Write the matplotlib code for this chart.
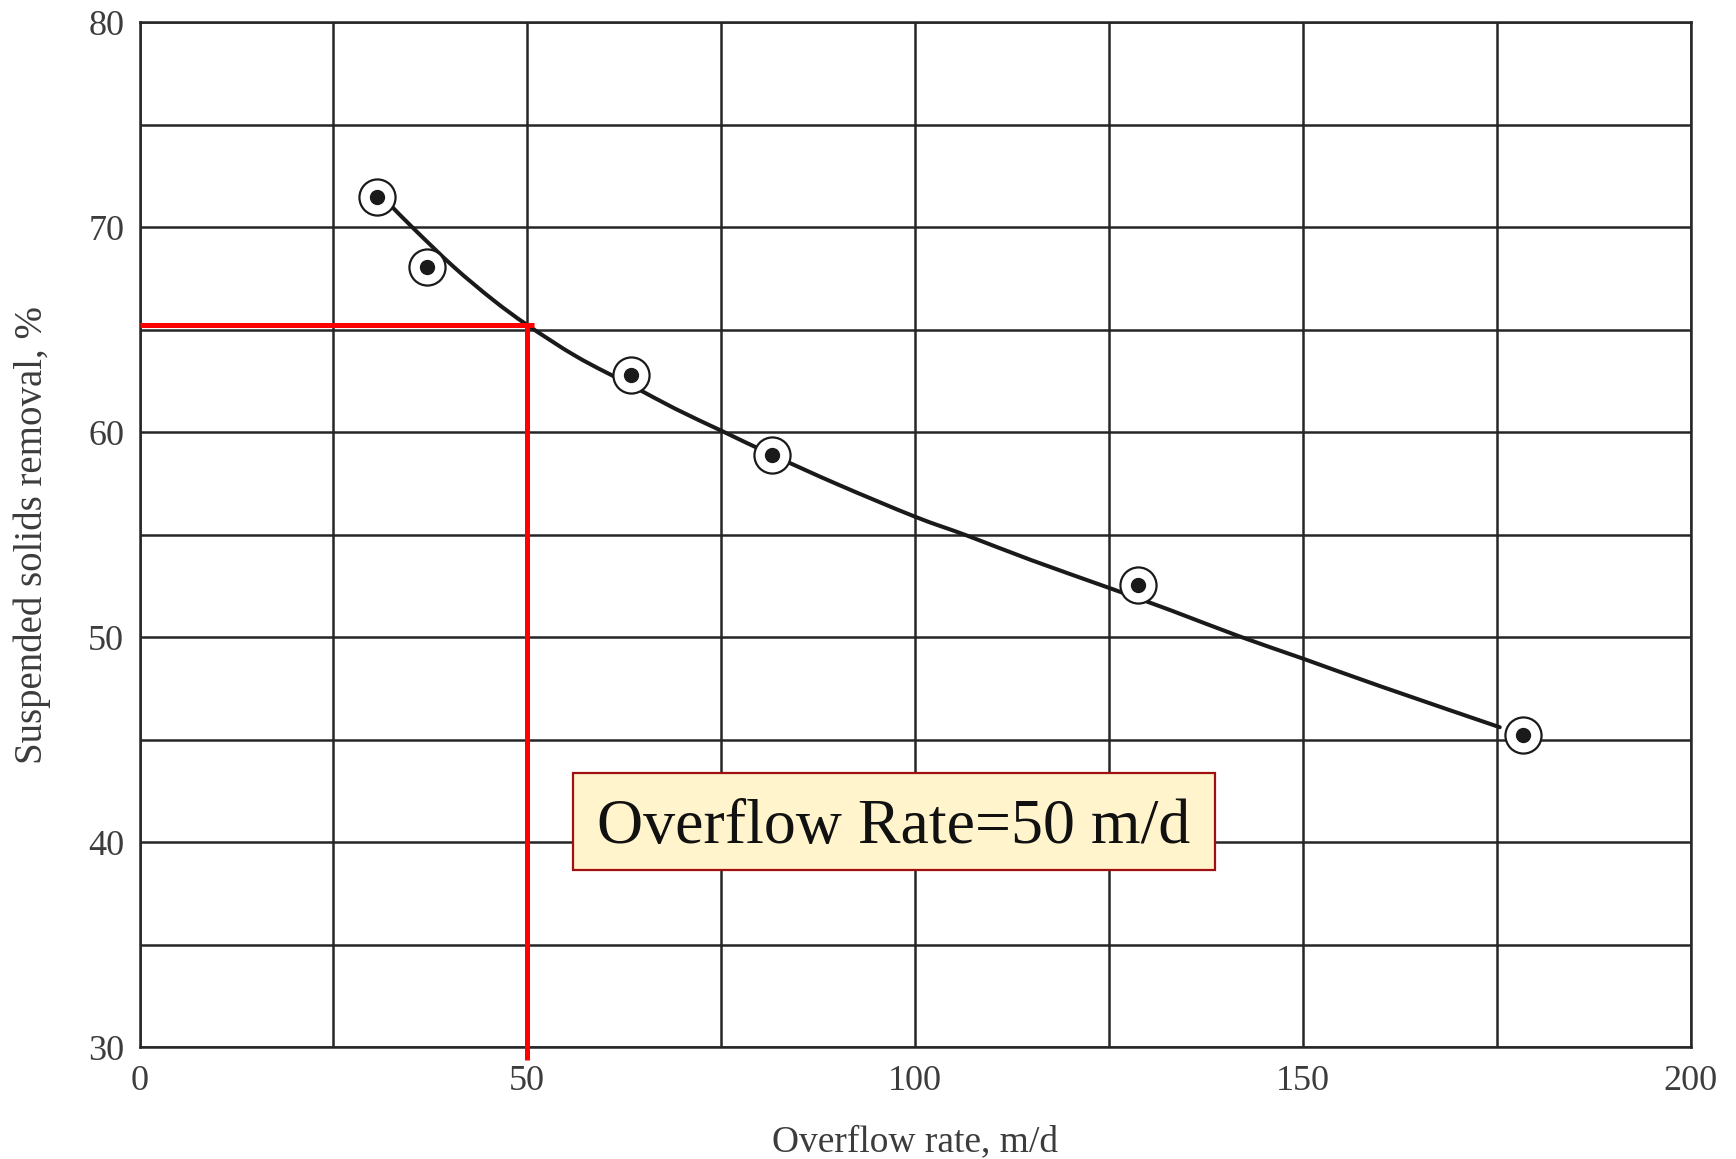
import matplotlib
matplotlib.use("Agg")
import matplotlib.pyplot as plt
from matplotlib.patches import Rectangle, PathPatch
from matplotlib.path import Path

# Settling column results: overflow rate (m/d) vs suspended solids removal (%)
overflow_rate = [30.6, 37.1, 63.4, 81.6, 128.8, 178.4]
ss_removal = [71.45, 68.06, 62.78, 58.88, 52.54, 45.2]

# Fitted removal curve, sampled along its length
curve_x = [32.7, 35.3, 40.5, 45.6, 50.0, 56.4, 63.3, 69.0, 75.1, 81.6, 90.0,
           100.0, 106.7, 115.0, 125.0, 133.0, 141.7, 150.0, 160.0, 175.4]
curve_y = [70.93, 69.94, 68.06, 66.44, 65.22, 63.67, 62.3, 61.15, 60.05, 58.88,
           57.45, 55.87, 54.95, 53.75, 52.4, 51.3, 50.05, 48.95, 47.6, 45.6]

# Design read-off
design_rate = 50
design_removal = 65.2

x_ticks = [0, 50, 100, 150, 200]
y_ticks = [30, 40, 50, 60, 70, 80]
x_grid = [0, 25, 50, 75, 100, 125, 150, 175, 200]
y_grid = [30, 35, 40, 45, 50, 55, 60, 65, 70, 75, 80]

serif = ["Liberation Serif", "DejaVu Serif"]
grid_color = "#262626"
label_color = "#3c3c3c"


def smooth_path(xs, ys):
    """Cubic Bezier path passing through every sample (Catmull-Rom tangents)."""
    pts = list(zip(xs, ys))
    verts = [pts[0]]
    codes = [Path.MOVETO]
    n = len(pts)
    for i in range(n - 1):
        p0 = pts[i - 1] if i > 0 else pts[i]
        p1 = pts[i]
        p2 = pts[i + 1]
        p3 = pts[i + 2] if i + 2 < n else pts[i + 1]
        c1 = (p1[0] + (p2[0] - p0[0]) / 6, p1[1] + (p2[1] - p0[1]) / 6)
        c2 = (p2[0] - (p3[0] - p1[0]) / 6, p2[1] - (p3[1] - p1[1]) / 6)
        verts += [c1, c2, p2]
        codes += [Path.CURVE4] * 3
    return Path(verts, codes)


fig = plt.figure(figsize=(17.36, 11.59), dpi=100)
ax = fig.add_axes([0.0804, 0.0966, 0.8934, 0.8844])

ax.set_xlim(0, 200)
ax.set_ylim(30, 80)
ax.set_xticks(x_ticks)
ax.set_yticks(y_ticks)
ax.set_xticks(x_grid, minor=True)
ax.set_yticks(y_grid, minor=True)
ax.grid(True, which="both", color=grid_color, linewidth=1.8)
ax.set_axisbelow(True)
ax.tick_params(which="both", length=0)
ax.tick_params(axis="x", pad=13)
ax.tick_params(axis="y", pad=11)
for lab in ax.get_xticklabels() + ax.get_yticklabels():
    lab.set_fontfamily(serif)
    lab.set_fontsize(26)
    lab.set_color(label_color)
for sp in ax.spines.values():
    sp.set_color(grid_color)
    sp.set_linewidth(1.8)

ax.set_xlabel("Overflow rate, m/d", fontfamily=serif, fontsize=27,
              color=label_color, labelpad=19)
ax.set_ylabel("Suspended solids removal, %", fontfamily=serif, fontsize=28,
              color=label_color, labelpad=27)

# Fitted curve
curve = PathPatch(smooth_path(curve_x, curve_y), facecolor="none",
                  edgecolor="#1a1a1a", linewidth=2.9, zorder=3,
                  capstyle="round")
ax.add_patch(curve)

# Data points: ringed dots
ax.plot(overflow_rate, ss_removal, linestyle="none", marker="o",
        markersize=26, markerfacecolor="white", markeredgecolor="#1a1a1a",
        markeredgewidth=1.6, zorder=4)
ax.plot(overflow_rate, ss_removal, linestyle="none", marker="o",
        markersize=10, markerfacecolor="#1a1a1a", markeredgecolor="#1a1a1a",
        zorder=5)

# Red read-off lines
ax.plot([0, design_rate + 0.9], [design_removal, design_removal],
        color="#ff0000", linewidth=3.6, zorder=6, clip_on=False,
        solid_capstyle="butt")
ax.plot([design_rate, design_rate], [design_removal, 29.37],
        color="#ff0000", linewidth=3.6, zorder=6, clip_on=False,
        solid_capstyle="butt")

# Callout box
box = Rectangle((0.2795, 0.1727), 0.4139, 0.0949, transform=ax.transAxes,
                facecolor="#fff4cc", edgecolor="#a01010", linewidth=1.6,
                zorder=7)
ax.add_patch(box)
ax.text(0.2795 + 0.4139 / 2, 0.1727 + 0.0949 / 2, "Overflow Rate=50 m/d",
        transform=ax.transAxes, ha="center", va="center_baseline",
        fontfamily=serif, fontsize=46, color="#111111", zorder=8)

fig.savefig("out.png", dpi=100)
